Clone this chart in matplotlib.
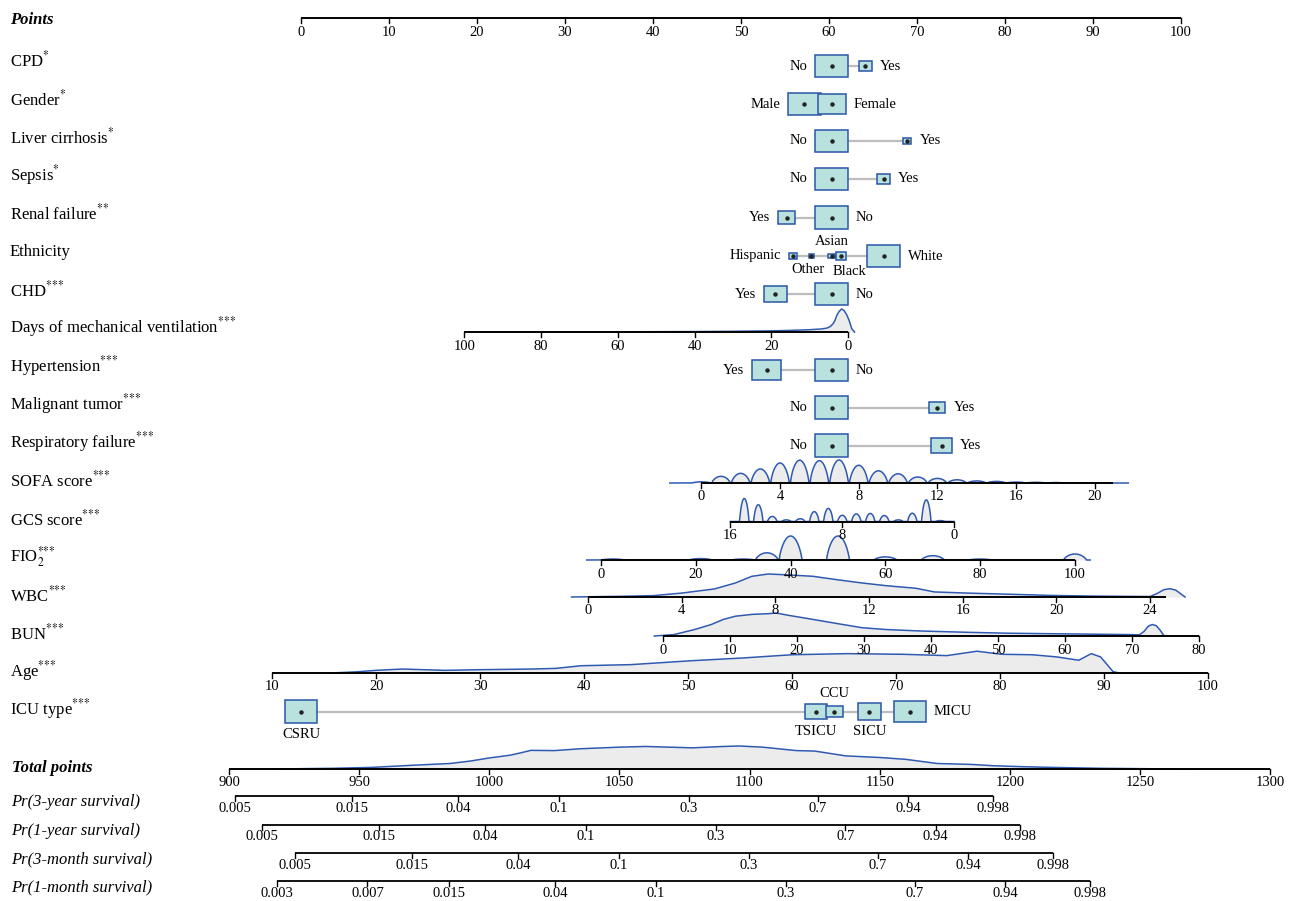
import numpy as np
import matplotlib.pyplot as plt
from matplotlib.patches import Rectangle
from matplotlib.transforms import blended_transform_factory

plt.rcParams['font.family'] = ['Liberation Serif', 'DejaVu Serif']
plt.rcParams['mathtext.fontset'] = 'stix'

# ---------------- data ----------------
points_ticks = list(range(0, 101, 10))

# categorical predictors: levels, points, share of patients
cpd_levels = ['No', 'Yes']
cpd_points = [60.3, 64.1]
cpd_share = [0.86, 0.14]

gender_levels = ['Male', 'Female']
gender_points = [57.2, 60.3]
gender_share = [0.57, 0.43]

liver_levels = ['No', 'Yes']
liver_points = [60.3, 68.9]
liver_share = [0.94, 0.06]

sepsis_levels = ['No', 'Yes']
sepsis_points = [60.3, 66.2]
sepsis_share = [0.86, 0.14]

renal_levels = ['Yes', 'No']
renal_points = [55.2, 60.3]
renal_share = [0.22, 0.78]

ethnicity_levels = ['Hispanic', 'Other', 'Asian', 'Black', 'White']
ethnicity_points = [55.9, 58.0, 60.3, 61.4, 66.2]
ethnicity_share = [0.037, 0.02, 0.028, 0.07, 0.72]

chd_levels = ['Yes', 'No']
chd_points = [53.9, 60.3]
chd_share = [0.34, 0.66]

htn_levels = ['Yes', 'No']
htn_points = [52.9, 60.3]
htn_share = [0.45, 0.55]

tumor_levels = ['No', 'Yes']
tumor_points = [60.3, 72.3]
tumor_share = [0.8, 0.2]

resp_levels = ['No', 'Yes']
resp_points = [60.3, 72.8]
resp_share = [0.7, 0.3]

icu_levels = ['CSRU', 'TSICU', 'CCU', 'SICU', 'MICU']
icu_points = [0.0, 58.5, 60.6, 64.6, 69.2]
icu_share = [0.30, 0.135, 0.08, 0.16, 0.28]

# continuous predictors: points = intercept + slope * value
vent_ticks = [100, 80, 60, 40, 20, 0]
vent_map = (62.16, -0.436)
vent_days = [-1.7, -0.95, -0.3, 0.34, 1.0, 1.65, 2.3, 2.9, 3.4, 3.9, 4.6, 5.5,
             7, 10, 15, 20, 30, 40, 60, 80, 96]
vent_density = [0, 0.15, 0.5, 0.75, 0.93, 1.0, 0.9, 0.73, 0.5, 0.36, 0.24, 0.17,
                0.13, 0.1, 0.07, 0.05, 0.03, 0.018, 0.008, 0.004, 0]

sofa_ticks = [0, 4, 8, 12, 16, 20]
sofa_map = (45.49, 2.236)
sofa_values = list(range(0, 21))
sofa_freq = [0.05, 0.29, 0.42, 0.61, 0.87, 0.99, 0.97, 1.0, 0.77, 0.53, 0.4,
             0.26, 0.2, 0.14, 0.09, 0.07, 0.04, 0.03, 0.02, 0.01, 0.01]

gcs_ticks = [16, 8, 0]
gcs_map = (74.24, -1.591)
gcs_values = list(range(1, 16))
gcs_freq = [0.04, 0.94, 0.36, 0.07, 0.26, 0.35, 0.33, 0.27, 0.57, 0.43, 0.12,
            0.07, 0.22, 0.73, 1.0]

fio2_ticks = [0, 20, 40, 60, 80, 100]
fio2_map = (34.09, 0.5386)
fio2_values = [2.5, 21, 30, 35, 40, 50, 60, 70, 80, 100]
fio2_freq = [0.04, 0.06, 0.04, 0.3, 1.0, 1.0, 0.13, 0.18, 0.04, 0.25]

wbc_ticks = [0, 4, 8, 12, 16, 20, 24]
wbc_map = (32.61, 2.661)
wbc_values = [-0.7, 1.4, 2.8, 4.0, 5.4, 6.3, 7.0, 7.7, 8.57, 9.6, 10.65, 11.7,
              12.75, 14, 14.8, 16.2, 18, 19.7, 21.5, 24.0, 24.3, 24.6, 24.85,
              25.1, 25.3, 25.5]
wbc_density = [0, 0.03, 0.06, 0.17, 0.35, 0.61, 0.9, 1.0, 0.96, 0.9, 0.75, 0.61,
               0.49, 0.38, 0.22, 0.17, 0.12, 0.07, 0.04, 0.02, 0.15, 0.32, 0.36,
               0.3, 0.15, 0]

bun_ticks = list(range(0, 81, 10))
bun_map = (41.14, 0.7614)
bun_values = [-1.3, 1.6, 4.7, 7.2, 9, 10.8, 13.3, 15.7, 16.9, 18.7, 21.8, 26,
              29.7, 33.4, 38.2, 45.5, 51.6, 60.7, 69.9, 71.1, 71.8, 72.4, 73.0,
              73.6, 74.2, 74.8]
bun_density = [0, 0.06, 0.28, 0.5, 0.72, 0.86, 0.94, 0.97, 1.0, 0.9, 0.75, 0.54,
               0.36, 0.28, 0.22, 0.16, 0.12, 0.09, 0.06, 0.05, 0.2, 0.42, 0.5,
               0.45, 0.25, 0]

age_ticks = list(range(10, 101, 10))
age_map = (-15.07, 1.181)
age_values = [15.6, 18, 20, 22.5, 26.6, 30, 35, 37.3, 39.7, 44.5, 50.4, 55.2,
              60, 65.3, 70.7, 74.9, 77.8, 80.2, 83.1, 85.5, 87.6, 88.8, 89.7,
              90.9, 91.5, 98]
age_density = [0, 0.05, 0.12, 0.18, 0.12, 0.15, 0.18, 0.21, 0.33, 0.38, 0.56,
               0.68, 0.83, 0.88, 0.85, 0.79, 0.99, 0.85, 0.83, 0.73, 0.58, 0.88,
               0.73, 0.06, 0, 0]

total_ticks = list(range(900, 1301, 50))
total_values = [917, 940, 955, 970, 985, 993, 1000, 1008, 1012, 1016, 1025,
                1035, 1050, 1060, 1078, 1090, 1096, 1105, 1118, 1125, 1137,
                1150, 1160, 1172, 1185, 1194, 1205, 1216, 1235, 1255, 1272]
total_density = [0, 0.03, 0.07, 0.16, 0.24, 0.35, 0.48, 0.6, 0.7, 0.81, 0.8,
                 0.88, 0.95, 0.98, 0.92, 0.98, 1.0, 0.95, 0.8, 0.78, 0.57, 0.5,
                 0.42, 0.24, 0.2, 0.14, 0.1, 0.07, 0.03, 0.01, 0]

# probability scales: cloglog(p) = intercept + slope * total points
surv_names = ['Pr(3-year survival)', 'Pr(1-year survival)',
              'Pr(3-month survival)', 'Pr(1-month survival)']
surv_intercepts = [-27.353, -27.608, -27.917, -28.264]
surv_slope = 0.02445
surv_ticks = [
    [0.005, 0.015, 0.04, 0.1, 0.3, 0.7, 0.94, 0.998],
    [0.005, 0.015, 0.04, 0.1, 0.3, 0.7, 0.94, 0.998],
    [0.005, 0.015, 0.04, 0.1, 0.3, 0.7, 0.94, 0.998],
    [0.003, 0.007, 0.015, 0.04, 0.1, 0.3, 0.7, 0.94, 0.998],
]

# ---------------- drawing ----------------
PX = 8.8            # pixels per point on the Points scale
X0 = 301            # pixel position of 0 points
W, H = 1289, 901

fig = plt.figure(figsize=(W / 100, H / 100), dpi=100)
ax = fig.add_axes([0, 0, 1, 1])
ax.set_xlim(-X0 / PX, (W - X0) / PX)
ax.set_ylim(H, 0)
ax.axis('off')
lab_tr = blended_transform_factory(ax.transAxes, ax.transData)

BOX_FACE = '#B9E1DD'
BOX_EDGE = '#2A56A8'
LINE_BLUE = '#2F5AB0'
FILL_GREY = '#ECECEC'
TICK_FS = 10.5
CAT_FS = 10.5
STARS = {1: r'$^{*}$', 2: r'$^{{*}{*}}$', 3: r'$^{{*}{*}{*}}$'}


def total_to_x(t):
    # total points scale: 900 sits at x=229 px, 2.6028 px per total point
    return (229 - X0) / PX + (np.asarray(t, float) - 900) * 2.6028 / PX


def linear(m):
    return lambda v: m[0] + m[1] * np.asarray(v, float)


def draw_axis(y, lo, hi, ticks, to_x, labels=None, lw=1.4, offset=14):
    ax.plot([to_x(lo), to_x(hi)], [y, y], color='black', lw=lw,
            solid_capstyle='butt', zorder=4)
    if labels is None:
        labels = [f'{t:g}' for t in ticks]
    for t, s in zip(ticks, labels):
        xt = to_x(t)
        ax.plot([xt, xt], [y, y + 5], color='black', lw=1.0, zorder=4)
        ax.text(xt, y + offset, s, ha='center', va='center', fontsize=TICK_FS)


def draw_density(y, values, heights, to_x, height_px=23):
    xs = to_x(values)
    ys = y - height_px * np.asarray(heights, float)
    ax.fill_between(xs, y, ys, color=FILL_GREY, lw=0, zorder=1)
    ax.plot(xs, ys, color=LINE_BLUE, lw=1.1, zorder=2)


def draw_discrete(y, values, freq, to_x, lo, hi, half_width, height_px=23):
    # arch-shaped kernel on each observed value
    grid = np.linspace(lo, hi, 2500)
    dens = np.zeros_like(grid)
    for v, f in zip(values, freq):
        d = np.clip(1 - ((grid - v) / half_width) ** 2, 0, None)
        dens += f * d ** 0.75
    draw_density(y, grid, dens, to_x, height_px)


def draw_factor(y, levels, pts, share, places, nudge=None):
    share = np.asarray(share, float)
    widths = np.maximum(32.5 * np.sqrt(share / share.max()), 5.0)
    heights = 0.7 * widths
    nudge = nudge or [0] * len(levels)
    ax.plot([min(pts), max(pts)], [y, y], color='#BDBDBD', lw=1.6, zorder=1)
    for name, p, w, h, place, dx in zip(levels, pts, widths, heights, places,
                                        nudge):
        ax.add_patch(Rectangle((p - w / 2 / PX, y - h / 2), w / PX, h,
                               facecolor=BOX_FACE, edgecolor=BOX_EDGE,
                               lw=1.1, zorder=2))
        ax.plot(p, y, 'o', ms=2.2, color='#222222', zorder=3)
        if place == 'left':
            ax.text(p - (w / 2 + 8) / PX, y, name, ha='right', va='center',
                    fontsize=CAT_FS)
        elif place == 'right':
            ax.text(p + (w / 2 + 8) / PX, y, name, ha='left', va='center',
                    fontsize=CAT_FS)
        elif place == 'above':
            ax.text(p + dx / PX, y - h / 2 - 12, name, ha='center',
                    va='center', fontsize=CAT_FS)
        else:
            ax.text(p + dx / PX, y + h / 2 + 12, name, ha='center',
                    va='center', fontsize=CAT_FS)


def row_label(y, text, **kw):
    ax.text(10 / W, y, text, transform=lab_tr, ha='left', va='center',
            fontsize=12, **kw)


# Points scale
row_label(20, 'Points', fontweight='bold', fontstyle='italic')
draw_axis(18, 0, 100, points_ticks, lambda v: np.asarray(v, float))

# categorical rows
LR = ['left', 'right']
factor_rows = [
    (66, 60, 'CPD' + STARS[1], cpd_levels, cpd_points, cpd_share, LR, None),
    (104, 99, 'Gender' + STARS[1], gender_levels, gender_points, gender_share,
     LR, None),
    (141, 137, 'Liver cirrhosis' + STARS[1], liver_levels, liver_points,
     liver_share, LR, None),
    (179, 175, 'Sepsis' + STARS[1], sepsis_levels, sepsis_points,
     sepsis_share, LR, None),
    (217.5, 213, 'Renal failure' + STARS[2], renal_levels, renal_points,
     renal_share, LR, None),
    (256, 252, 'Ethnicity', ethnicity_levels, ethnicity_points,
     ethnicity_share, ['left', 'below', 'above', 'below', 'right'],
     [0, -3, 0, 8, 0]),
    (294, 290, 'CHD' + STARS[3], chd_levels, chd_points, chd_share, LR, None),
    (370, 366, 'Hypertension' + STARS[3], htn_levels, htn_points, htn_share,
     LR, None),
    (407.5, 404, 'Malignant tumor' + STARS[3], tumor_levels, tumor_points,
     tumor_share, LR, None),
    (445.5, 442, 'Respiratory failure' + STARS[3], resp_levels, resp_points,
     resp_share, LR, None),
    (711.5, 709, 'ICU type' + STARS[3], icu_levels, icu_points, icu_share,
     ['below', 'below', 'above', 'below', 'right'], None),
]
for y, ly, name, levels, pts, share, places, nudge in factor_rows:
    row_label(ly, name)
    draw_factor(y, levels, pts, share, places, nudge)

# Days of mechanical ventilation
f = linear(vent_map)
row_label(327, 'Days of mechanical ventilation' + STARS[3])
draw_density(332, vent_days, vent_density, f, 23)
draw_axis(332, 100, 0, vent_ticks, f)

# SOFA score
f = linear(sofa_map)
row_label(480, 'SOFA score' + STARS[3])
draw_discrete(483, sofa_values, sofa_freq, f, -1.6, 21.7, 0.47)
draw_axis(483, 0, 20.9, sofa_ticks, f)

# GCS score
f = linear(gcs_map)
row_label(519, 'GCS score' + STARS[3])
draw_discrete(521.5, gcs_values, gcs_freq, f, 0.0, 16.0, 0.33)
draw_axis(521.5, 16, 0, gcs_ticks, f)

# FIO2
f = linear(fio2_map)
row_label(557, r'FIO$_{2}^{{*}{*}{*}}$')
draw_discrete(560, fio2_values, fio2_freq, f, -3, 103.2, 2.4, 24)
draw_axis(560, 0, 100, fio2_ticks, f)

# WBC
f = linear(wbc_map)
row_label(595, 'WBC' + STARS[3])
draw_density(597, wbc_values, wbc_density, f, 23)
draw_axis(597, 0, 24.7, wbc_ticks, f)

# BUN
f = linear(bun_map)
row_label(633, 'BUN' + STARS[3])
draw_density(636, bun_values, bun_density, f, 23)
draw_axis(636, 0, 80, bun_ticks, f)

# Age
f = linear(age_map)
row_label(671, 'Age' + STARS[3])
draw_density(673, age_values, age_density, f, 22)
draw_axis(673, 10, 100, age_ticks, f)

# Total points
ax.text(12.5 / W, 768, 'Total points', transform=lab_tr, ha='left',
        va='center', fontsize=12, fontweight='bold', fontstyle='italic')
draw_density(769, total_values, total_density, total_to_x, 23)
draw_axis(769, 900, 1300, total_ticks, total_to_x)


# probability scales
def prob_to_x(p, a):
    p = np.asarray(p, float)
    return total_to_x((np.log(-np.log(1 - p)) - a) / surv_slope)


for y, ly, name, a, ticks in zip([796, 824.5, 853, 881], [802, 831, 859, 887],
                                 surv_names, surv_intercepts, surv_ticks):
    ax.text(11 / W, ly, name, transform=lab_tr, ha='left', va='center',
            fontsize=12, fontstyle='italic')
    draw_axis(y, ticks[0], ticks[-1], ticks, lambda p, a=a: prob_to_x(p, a),
              lw=1.3, offset=12.5)

fig.savefig('out.png', dpi=100)
